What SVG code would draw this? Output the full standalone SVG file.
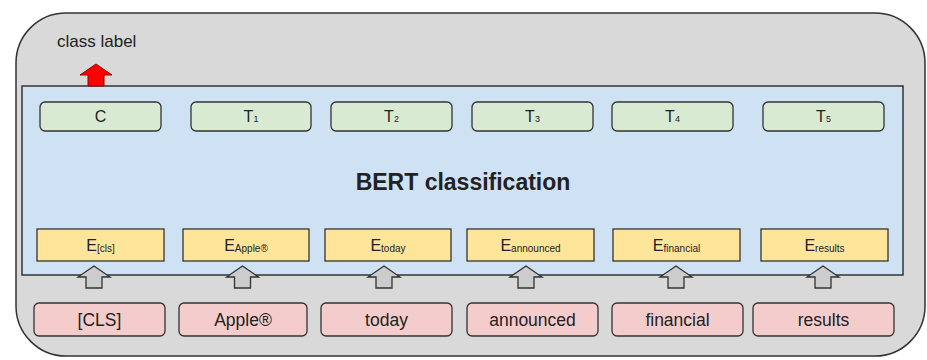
<svg xmlns="http://www.w3.org/2000/svg" width="927" height="360" viewBox="0 0 927 360">
<style>
text{font-family:"Liberation Sans",Arial,sans-serif;fill:#222;stroke:none;}
.outer{fill:#d9d9d9;stroke:#333;stroke-width:1.5;}
.bert{fill:#cfe2f3;stroke:#333;stroke-width:1.5;}
.out{fill:#d9ead3;stroke:#333;stroke-width:1.3;}
.emb{fill:#ffe599;stroke:#333;stroke-width:1.3;}
.tok rect{fill:#f4cccc;stroke:#333;stroke-width:1.3;}
.garrow{fill:#cccccc;stroke:#333;stroke-width:1.3;stroke-linejoin:miter;}
.t16{font-size:16px;text-anchor:middle;}
.tok text{font-size:17.5px;text-anchor:middle;}
.sub{font-size:10px;}
.sub9{font-size:9px;}
</style>
<g id="container">
<rect class="outer" x="16" y="13" width="909" height="343" rx="50" ry="50"/>
<text x="57" y="47" font-size="17">class label</text>
</g>
<g id="bert">
<rect class="bert" x="22" y="86" width="881" height="189"/>
<text x="463" y="190" font-size="23" font-weight="bold" text-anchor="middle">BERT classification</text>
</g>
<g id="outputs">
<g id="out-C"><rect class="out" x="40" y="102" width="121" height="29" rx="5"/><text class="t16" x="100.5" y="122">C</text></g>
<g id="out-T1"><rect class="out" x="191" y="102" width="120" height="29" rx="5"/><text class="t16" x="251" y="122">T<tspan class="sub9">1</tspan></text></g>
<g id="out-T2"><rect class="out" x="331" y="102" width="121" height="29" rx="5"/><text class="t16" x="391.5" y="122">T<tspan class="sub9">2</tspan></text></g>
<g id="out-T3"><rect class="out" x="472" y="102" width="121" height="29" rx="5"/><text class="t16" x="532.5" y="122">T<tspan class="sub9">3</tspan></text></g>
<g id="out-T4"><rect class="out" x="612" y="102" width="121" height="29" rx="5"/><text class="t16" x="672.5" y="122">T<tspan class="sub9">4</tspan></text></g>
<g id="out-T5"><rect class="out" x="763" y="102" width="121" height="29" rx="5"/><text class="t16" x="823.5" y="122">T<tspan class="sub9">5</tspan></text></g>
</g>
<g id="embeddings">
<g id="emb-cls"><rect class="emb" x="37" y="229" width="127" height="32"/><text class="t16" x="100.5" y="251">E<tspan class="sub" dy="1">[cls]</tspan></text></g>
<g id="emb-apple"><rect class="emb" x="183" y="229" width="126" height="32"/><text class="t16" x="246" y="251">E<tspan class="sub" dy="1">Apple®</tspan></text></g>
<g id="emb-today"><rect class="emb" x="325" y="229" width="126" height="32"/><text class="t16" x="388" y="251">E<tspan class="sub" dy="1">today</tspan></text></g>
<g id="emb-announced"><rect class="emb" x="467" y="229" width="127" height="32"/><text class="t16" x="530.5" y="251">E<tspan class="sub" dy="1">announced</tspan></text></g>
<g id="emb-financial"><rect class="emb" x="613" y="229" width="127" height="32"/><text class="t16" x="676.5" y="251">E<tspan class="sub" dy="1">financial</tspan></text></g>
<g id="emb-results"><rect class="emb" x="761" y="229" width="127" height="32"/><text class="t16" x="824.5" y="251">E<tspan class="sub" dy="1">results</tspan></text></g>
</g>
<g id="tokens">
<g id="tok-cls" class="tok"><rect x="34" y="303" width="131" height="33" rx="5"/><text x="99.5" y="326">[CLS]</text></g>
<g id="tok-apple" class="tok"><rect x="179" y="303" width="128" height="33" rx="5"/><text x="243" y="326">Apple®</text></g>
<g id="tok-today" class="tok"><rect x="321" y="303" width="131" height="33" rx="5"/><text x="386.5" y="326">today</text></g>
<g id="tok-announced" class="tok"><rect x="467" y="303" width="131" height="33" rx="5"/><text x="532.5" y="326">announced</text></g>
<g id="tok-financial" class="tok"><rect x="612" y="303" width="131" height="33" rx="5"/><text x="677.5" y="326">financial</text></g>
<g id="tok-results" class="tok"><rect x="753" y="303" width="141" height="33" rx="5"/><text x="823.5" y="326">results</text></g>
</g>
<g id="connectors">
<polygon points="96,64 112,75 104,75 104,86 88,86 88,75 80,75" fill="#ff0000" stroke="#990000" stroke-width="1"/>
<polygon class="garrow" points="94,266 110,277 102,277 102,288 86,288 86,277 78,277"/>
<polygon class="garrow" points="242.5,266 258.5,277 250.5,277 250.5,288 234.5,288 234.5,277 226.5,277"/>
<polygon class="garrow" points="384,266 400,277 392,277 392,288 376,288 376,277 368,277"/>
<polygon class="garrow" points="526,266 542,277 534,277 534,288 518,288 518,277 510,277"/>
<polygon class="garrow" points="676,266 692,277 684,277 684,288 668,288 668,277 660,277"/>
<polygon class="garrow" points="823,266 839,277 831,277 831,288 815,288 815,277 807,277"/>
</g>
</svg>
